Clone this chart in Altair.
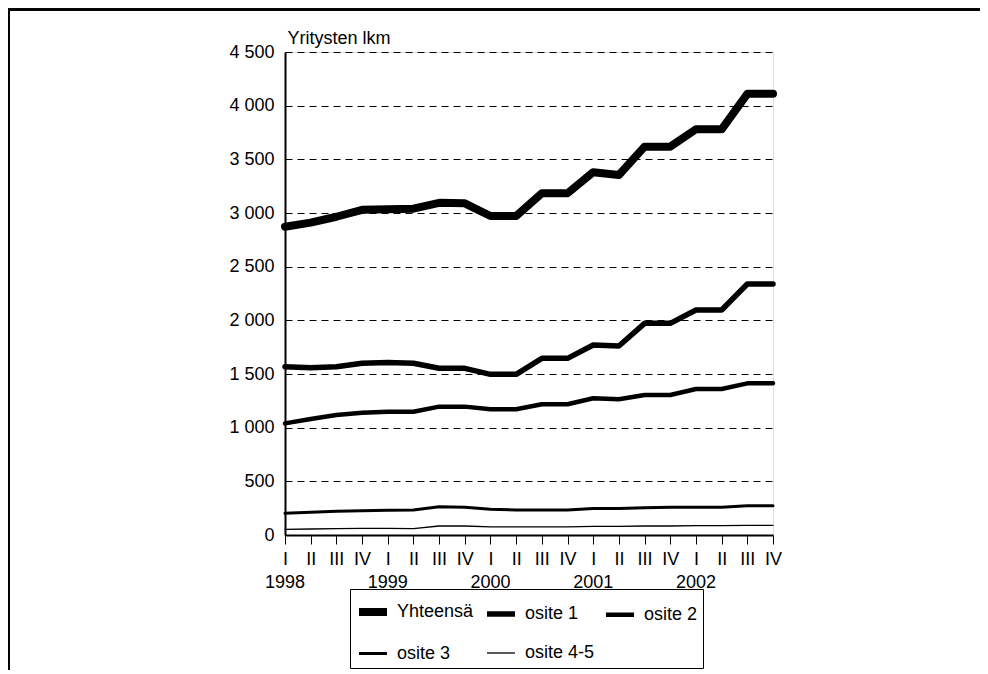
import altair as alt
import pandas as pd

quarters = ["I", "II", "III", "IV"] * 5
years = ["1998", "1999", "2000", "2001", "2002"]
year_pos = [0, 4, 8, 12, 16]
series_names = ["Yhteensä", "osite 1", "osite 2", "osite 3", "osite 4-5"]
widths = [8, 5.5, 4.5, 3, 1.3]

yhteensa = [2872, 2910, 2965, 3030, 3035, 3040, 3095, 3090, 2972, 2972,
            3184, 3184, 3380, 3354, 3618, 3618, 3780, 3780, 4110, 4110]
osite1 = [1568, 1559, 1568, 1600, 1606, 1600, 1553, 1553, 1497, 1497,
          1646, 1646, 1770, 1761, 1972, 1972, 2096, 2096, 2339, 2339]
osite2 = [1040, 1081, 1118, 1140, 1149, 1149, 1196, 1196, 1171, 1171,
          1218, 1218, 1274, 1264, 1304, 1304, 1360, 1360, 1413, 1413]
osite3 = [202, 211, 221, 227, 230, 233, 264, 258, 239, 233,
          233, 233, 248, 248, 255, 258, 258, 258, 273, 273]
osite45 = [53, 56, 59, 62, 62, 59, 84, 84, 75, 75,
           75, 75, 80, 80, 84, 84, 88, 88, 90, 90]

all_series = [yhteensa, osite1, osite2, osite3, osite45]
rows = []
for name, vals in zip(series_names, all_series):
    for i, v in enumerate(vals):
        rows.append({"idx": i, "value": v, "series": name})
df = pd.DataFrame(rows)

years_df = pd.DataFrame({"idx": year_pos, "year": years})

FONT = "Liberation Sans"
roman_js = "[" + ",".join("'%s'" % q for q in quarters) + "]"

x_scale = alt.Scale(domain=[0, 19], nice=False, zero=False)
x_axis = alt.Axis(
    values=list(range(20)),
    labelExpr=roman_js + "[datum.value]",
    title=None,
    grid=False,
    ticks=True,
    tickSize=9,
    tickColor="black",
    tickWidth=1,
    labelPadding=6,
    labelFontSize=18,
    labelFont=FONT,
    labelColor="black",
    domainColor="black",
    domainWidth=2,
    labelFlush=False,
    labelOverlap=False,
    labelBound=False,
)

y_enc = alt.Y(
    "value:Q",
    scale=alt.Scale(domain=[0, 4500], nice=False),
    axis=alt.Axis(
        values=list(range(0, 4501, 500)),
        labelExpr="replace(format(datum.value, ','), ',', ' ')",
        title="Yritysten lkm",
        titleAngle=0,
        titleAlign="left",
        titleBaseline="alphabetic",
        titleX=2,
        titleY=-9,
        titleFontSize=18,
        titleFontWeight="normal",
        titleFont=FONT,
        titleColor="black",
        ticks=False,
        labelPadding=11,
        labelFontSize=18,
        labelFont=FONT,
        labelColor="black",
        domainColor="black",
        domainWidth=2,
        grid=True,
        gridColor="black",
        gridDash=[7, 5],
        gridWidth=1,
        labelOverlap=False,
    ),
)

lines = alt.Chart(df).mark_line(color="black", strokeJoin="round", strokeCap="round").encode(
    x=alt.X("idx:Q", scale=x_scale, axis=x_axis),
    y=y_enc,
    strokeWidth=alt.StrokeWidth(
        "series:N",
        scale=alt.Scale(type="ordinal", domain=series_names, range=widths),
        legend=alt.Legend(
            title=None,
            orient="none",
            legendX=65,
            legendY=537,
            direction="horizontal",
            columns=3,
            columnPadding=2,
            rowPadding=10,
            padding=5,
            gridAlign="each",
            symbolType="stroke",
            symbolSize=784,
            symbolStrokeColor="black",
            labelFontSize=18,
            labelFont=FONT,
            labelColor="black",
            labelOffset=6,
            strokeColor="black",
            labelLimit=200,
        ),
    ),
    order=alt.Order("idx:Q"),
)

year_text = alt.Chart(years_df).mark_text(
    fontSize=18, font=FONT, color="black", baseline="middle", align="center"
).encode(
    x=alt.X("idx:Q", scale=x_scale, axis=x_axis),
    y=alt.value(531),
    text="year:N",
)

frame_top = alt.Chart(years_df).mark_rule(color="black", strokeWidth=2).encode(
    x=alt.value(-277), x2=alt.value(720), y=alt.value(-42.5)
)
frame_left = alt.Chart(years_df).mark_rule(color="black", strokeWidth=2).encode(
    x=alt.value(-276.5), y=alt.value(-43), y2=alt.value(700)
)

chart = alt.layer(frame_top, frame_left, lines, year_text).properties(
    width=488,
    height=483,
    autosize=alt.AutoSizeParams(type="none"),
    padding={"left": 277, "top": 44, "right": 207, "bottom": 135},
).configure_view(
    stroke="black", strokeWidth=1.5
).configure_axisX(
    labelOverlap=False
).configure(
    background="white"
)

chart.save("out.html", embed_options={"renderer": "svg", "actions": False})
